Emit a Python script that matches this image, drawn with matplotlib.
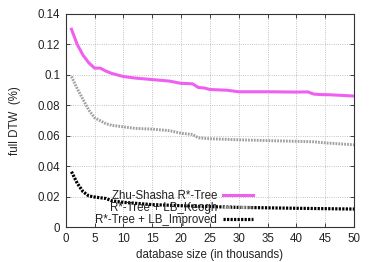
import matplotlib
matplotlib.use("Agg")
import matplotlib.pyplot as plt

# Zhu-Shasha R*-Tree
x_zs = [1, 2, 3, 4, 5, 6, 7, 8, 10, 12, 15, 18, 20, 21, 22, 23, 24, 25, 28, 30, 35, 40, 42, 43, 44, 46, 50]
y_zs = [0.130, 0.120, 0.113, 0.108, 0.1045, 0.1045, 0.1025, 0.101, 0.099, 0.098, 0.097, 0.096, 0.0945,
        0.0944, 0.0942, 0.0918, 0.0915, 0.0905, 0.0900, 0.0890, 0.0890, 0.0888, 0.0889, 0.0875, 0.0872,
        0.0870, 0.0862]

# R*-Tree + LB_Keogh
x_keogh = [1, 2, 3, 4, 5, 6, 7, 8, 10, 12, 15, 18, 20, 22, 23, 25, 30, 35, 40, 43, 45, 50]
y_keogh = [0.099, 0.091, 0.084, 0.077, 0.072, 0.070, 0.068, 0.067, 0.066, 0.065, 0.0645, 0.0635,
           0.0618, 0.061, 0.0588, 0.0582, 0.0575, 0.057, 0.0565, 0.0562, 0.0555, 0.0542]

# R*-Tree + LB_Improved
x_impr = [1, 2, 3, 4, 5, 7, 8, 10, 15, 20, 25, 30, 40, 50]
y_impr = [0.0366, 0.029, 0.0235, 0.0207, 0.020, 0.019, 0.0175, 0.0165, 0.015, 0.0143, 0.0137,
          0.0132, 0.0126, 0.0121]

xticks = [0, 5, 10, 15, 20, 25, 30, 35, 40, 45, 50]
yticks = [0, 0.02, 0.04, 0.06, 0.08, 0.1, 0.12, 0.14]
ytick_labels = ["0", "0.02", "0.04", "0.06", "0.08", "0.1", "0.12", "0.14"]

plt.rcParams['font.family'] = ['Liberation Sans', 'DejaVu Sans']
plt.rcParams['font.size'] = 8.3

fig = plt.figure(figsize=(3.74, 2.62), dpi=100)
ax = fig.add_axes([0.1757, 0.1317, 0.7708, 0.8149])

ax.plot(x_zs, y_zs, color='#f060f0', lw=2.2, label='Zhu-Shasha R*-Tree', zorder=3)
ax.plot(x_keogh, y_keogh, color='#a0a0a0', lw=2.1, ls=(0, (0.6, 0.4)), label='R*-Tree + LB_Keogh', zorder=3)
ax.plot(x_impr, y_impr, color='black', lw=2.3, ls=(0, (0.7, 0.4)), label='R*-Tree + LB_Improved', zorder=3)

ax.set_xlim(0, 50)
ax.set_ylim(0, 0.14)
ax.set_xticks(xticks)
ax.set_yticks(yticks)
ax.set_yticklabels(ytick_labels)
ax.tick_params(direction='in', length=3, width=0.6, top=True, right=True, pad=4, colors='#222222')
ax.grid(True, color='#b0b0b0', ls=':', lw=0.6)
for s in ax.spines.values():
    s.set_linewidth(0.8)
    s.set_color('#333333')

ax.set_xlabel('database size (in thousands)', labelpad=3, color='#222222')
ax.set_ylabel('full DTW  (%)', labelpad=12, color='#222222')

ax.legend(loc='lower right', bbox_to_anchor=(0.655, 0.0), frameon=False, markerfirst=False,
          handlelength=2.6, handletextpad=0.55, labelspacing=0.02, borderpad=0.0, borderaxespad=0.1,
          labelcolor='#222222')

fig.savefig('out.png', dpi=100)
